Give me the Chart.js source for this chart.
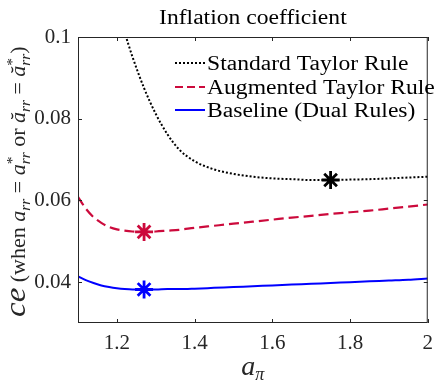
<!DOCTYPE html>
<html>
<head>
<meta charset="utf-8">
<script src="https://cdn.jsdelivr.net/npm/chart.js@4/dist/chart.umd.min.js"></script>
<style>
  html, body { margin: 0; padding: 0; background: #ffffff; }
  #wrap { width: 441px; height: 382px; }
</style>
</head>
<body>
<div id="wrap"><canvas id="c" width="441" height="382"></canvas></div>
<script>
// Inflation-response coefficient a_pi against the loss measure ce
const aPi = [1.10, 1.12, 1.14, 1.16, 1.18, 1.20, 1.22, 1.24, 1.27, 1.30, 1.33, 1.36, 1.40,
             1.45, 1.50, 1.55, 1.60, 1.65, 1.70, 1.75, 1.80, 1.85, 1.90, 1.95, 2.00];

const standardTaylor = [null, null, null, null, null, 0.1080, 0.1012, 0.0952, 0.0875, 0.0812, 0.0762, 0.0725, 0.0696,
                        0.0676, 0.0665, 0.0658, 0.0654, 0.0652, 0.0650, 0.0650, 0.0651, 0.0652, 0.0654, 0.0656, 0.0658];

const augmentedTaylor = [0.0609, 0.0580, 0.0559, 0.0545, 0.0535, 0.0529, 0.0526, 0.0524, 0.0523, 0.0524, 0.0526, 0.0528, 0.0533,
                         0.0538, 0.0543, 0.0548, 0.0553, 0.0558, 0.0562, 0.0567, 0.0571, 0.0575, 0.0580, 0.0585, 0.0590];

const baselineDual = [0.0414, 0.0405, 0.0398, 0.0392, 0.0388, 0.0385, 0.0383, 0.0382, 0.0382, 0.0382, 0.0383, 0.0383, 0.0384,
                      0.0386, 0.0388, 0.0390, 0.0392, 0.0394, 0.0396, 0.0398, 0.0400, 0.0402, 0.0404, 0.0406, 0.0409];

// optimal a_pi for each rule and the ce reached there
const seriesNames = ['Standard Taylor Rule', 'Augmented Taylor Rule', 'Baseline (Dual Rules)'];
const optimumAPi = [1.75, 1.27, 1.27];
const optimumCe = [0.0650, 0.0523, 0.0382];

const xTicks = [1.2, 1.4, 1.6, 1.8, 2];
const yTicks = [0.04, 0.06, 0.08, 0.1];
const chartTitle = 'Inflation coefficient';

const SERIF = '"Liberation Serif", "Times New Roman", serif';
const AXIS_GRAY = '#262626';
const colors = ['#000000', '#CC0A3C', '#0000FF'];
const dashes = [[2, 2], [10, 5], []];
const legendDashes = [[2, 2], [8, 4], []];
const widths = [2, 2.2, 2];

const toPoints = ys => aPi.map((x, i) => ({ x, y: ys[i] }));
const curves = [standardTaylor, augmentedTaylor, baselineDual];

const datasets = curves.map((ys, i) => ({
  label: seriesNames[i],
  data: toPoints(ys),
  borderColor: colors[i],
  borderWidth: widths[i],
  borderDash: dashes[i],
  pointRadius: 0,
  fill: false,
  cubicInterpolationMode: 'monotone',
  spanGaps: false,
  order: 2
}));

optimumAPi.forEach((x, i) => {
  datasets.push({
    label: seriesNames[i] + ' optimum',
    data: [{ x, y: optimumCe[i] }],
    showLine: false,
    pointStyle: 'star',
    pointRadius: 9,
    pointBorderWidth: 2.8,
    borderColor: colors[i],
    backgroundColor: colors[i],
    order: 1
  });
});

// draw a run of text pieces (with sub/superscripts) starting at x, baseline 0
function drawRuns(ctx, runs, x) {
  for (const r of runs) {
    if (r.stack) {
      let w = 0;
      for (const s of r.stack) {
        ctx.font = s.font;
        ctx.fillText(s.text, x, s.dy);
        w = Math.max(w, ctx.measureText(s.text).width);
      }
      x += w;
    } else {
      ctx.font = r.font;
      ctx.fillText(r.text, x, r.dy || 0);
      x += ctx.measureText(r.text).width;
    }
  }
  return x;
}

function runsWidth(ctx, runs) {
  let x = 0;
  for (const r of runs) {
    if (r.stack) {
      let w = 0;
      for (const s of r.stack) { ctx.font = s.font; w = Math.max(w, ctx.measureText(s.text).width); }
      x += w;
    } else { ctx.font = r.font; x += ctx.measureText(r.text).width; }
  }
  return x;
}

const it = s => 'italic ' + s + 'px ' + SERIF;
const rm = s => s + 'px ' + SERIF;

const decor = {
  id: 'decor',
  afterDraw(chart) {
    const { ctx, chartArea: { left, right, top, bottom }, scales: { x, y } } = chart;
    ctx.save();

    // axes box and inward ticks
    ctx.strokeStyle = AXIS_GRAY;
    ctx.lineWidth = 1;
    ctx.setLineDash([]);
    ctx.strokeRect(left + 0.5, top + 0.5, right - left - 1, bottom - top - 1);
    const tl = 4;
    ctx.beginPath();
    x.ticks.forEach(t => {
      const px = Math.round(x.getPixelForValue(t.value)) + 0.5;
      ctx.moveTo(px, bottom); ctx.lineTo(px, bottom - tl);
      ctx.moveTo(px, top); ctx.lineTo(px, top + tl);
    });
    y.ticks.forEach(t => {
      const py = Math.round(y.getPixelForValue(t.value)) + 0.5;
      ctx.moveTo(left, py); ctx.lineTo(left + tl, py);
      ctx.moveTo(right, py); ctx.lineTo(right - tl, py);
    });
    ctx.stroke();

    // title
    ctx.fillStyle = '#000';
    ctx.textBaseline = 'alphabetic';
    ctx.textAlign = 'left';
    ctx.font = rm(20);
    const sx = 1.18;
    const w = ctx.measureText(chartTitle).width * sx;
    ctx.save();
    ctx.translate((left + right) / 2 - w / 2, 24);
    ctx.scale(sx, 1);
    ctx.fillText(chartTitle, 0, 0);
    ctx.restore();

    // legend
    const lx0 = 175, lx1 = 205, rows = [63, 87, 110];
    for (let i = 0; i < 3; i++) {
      const ds = chart.data.datasets[i];
      ctx.strokeStyle = ds.borderColor;
      ctx.lineWidth = ds.borderWidth;
      ctx.setLineDash(legendDashes[i]);
      ctx.beginPath();
      ctx.moveTo(lx0, rows[i]); ctx.lineTo(lx1, rows[i]);
      ctx.stroke();
      ctx.setLineDash([]);
      ctx.save();
      ctx.translate(lx1 + 2, rows[i] + 7);
      ctx.scale(sx, 1);
      ctx.font = rm(20);
      ctx.fillStyle = '#000';
      ctx.fillText(ds.label, 0, 0);
      ctx.restore();
    }

    // y-axis label, rotated
    const subRR = { text: 'rr', font: it(14), dy: 5 };
    const star = { text: '*', font: rm(14), dy: -8 };
    const yLabel = [
      { text: 'ce', font: it(30) },
      { text: ' (when ', font: rm(20) },
      { text: 'a', font: it(20) }, { stack: [subRR] },
      { text: ' = ', font: rm(20) },
      { text: 'a', font: it(20) }, { stack: [star, subRR] },
      { text: ' or ', font: rm(20) },
      { text: '\u0103', font: it(20) }, { stack: [subRR] },
      { text: ' = ', font: rm(20) },
      { text: '\u0103', font: it(20) }, { stack: [star, subRR] },
      { text: ')', font: rm(20) }
    ];
    ctx.save();
    ctx.fillStyle = AXIS_GRAY;
    ctx.translate(25, 317);
    ctx.rotate(-Math.PI / 2);
    ctx.scale(1.1, 1);
    drawRuns(ctx, yLabel, 0);
    ctx.restore();

    // x-axis label
    const xLabel = [{ text: 'a', font: it(28) }, { text: '\u03c0', font: it(18), dy: 5 }];
    ctx.save();
    ctx.fillStyle = AXIS_GRAY;
    ctx.translate((left + right) / 2 - runsWidth(ctx, xLabel) / 2, 375);
    drawRuns(ctx, xLabel, 0);
    ctx.restore();

    ctx.restore();
  }
};

const tickFont = { family: SERIF, size: 21 };

new Chart(document.getElementById('c'), {
  type: 'line',
  data: { datasets },
  options: {
    responsive: false,
    animation: false,
    devicePixelRatio: 1,
    layout: { padding: { top: 37, right: 6, bottom: 0, left: 0 } },
    plugins: { legend: { display: false }, title: { display: false }, tooltip: { enabled: false } },
    scales: {
      x: {
        type: 'linear', min: 1.1, max: 2,
        afterFit(s) { s.height = 59; },
        afterBuildTicks(s) { s.ticks = xTicks.map(v => ({ value: v })); },
        grid: { display: false, drawTicks: false },
        border: { display: false },
        ticks: { font: tickFont, color: AXIS_GRAY, padding: 8, maxRotation: 0, autoSkip: false, callback: v => String(v) }
      },
      y: {
        type: 'linear', min: 0.03, max: 0.1,
        afterFit(s) { s.width = 78; },
        afterBuildTicks(s) { s.ticks = yTicks.map(v => ({ value: v })); },
        grid: { display: false, drawTicks: false },
        border: { display: false },
        ticks: { font: tickFont, color: AXIS_GRAY, padding: 7, autoSkip: false, callback: v => String(v) }
      }
    }
  },
  plugins: [decor]
});
</script>
</body>
</html>
